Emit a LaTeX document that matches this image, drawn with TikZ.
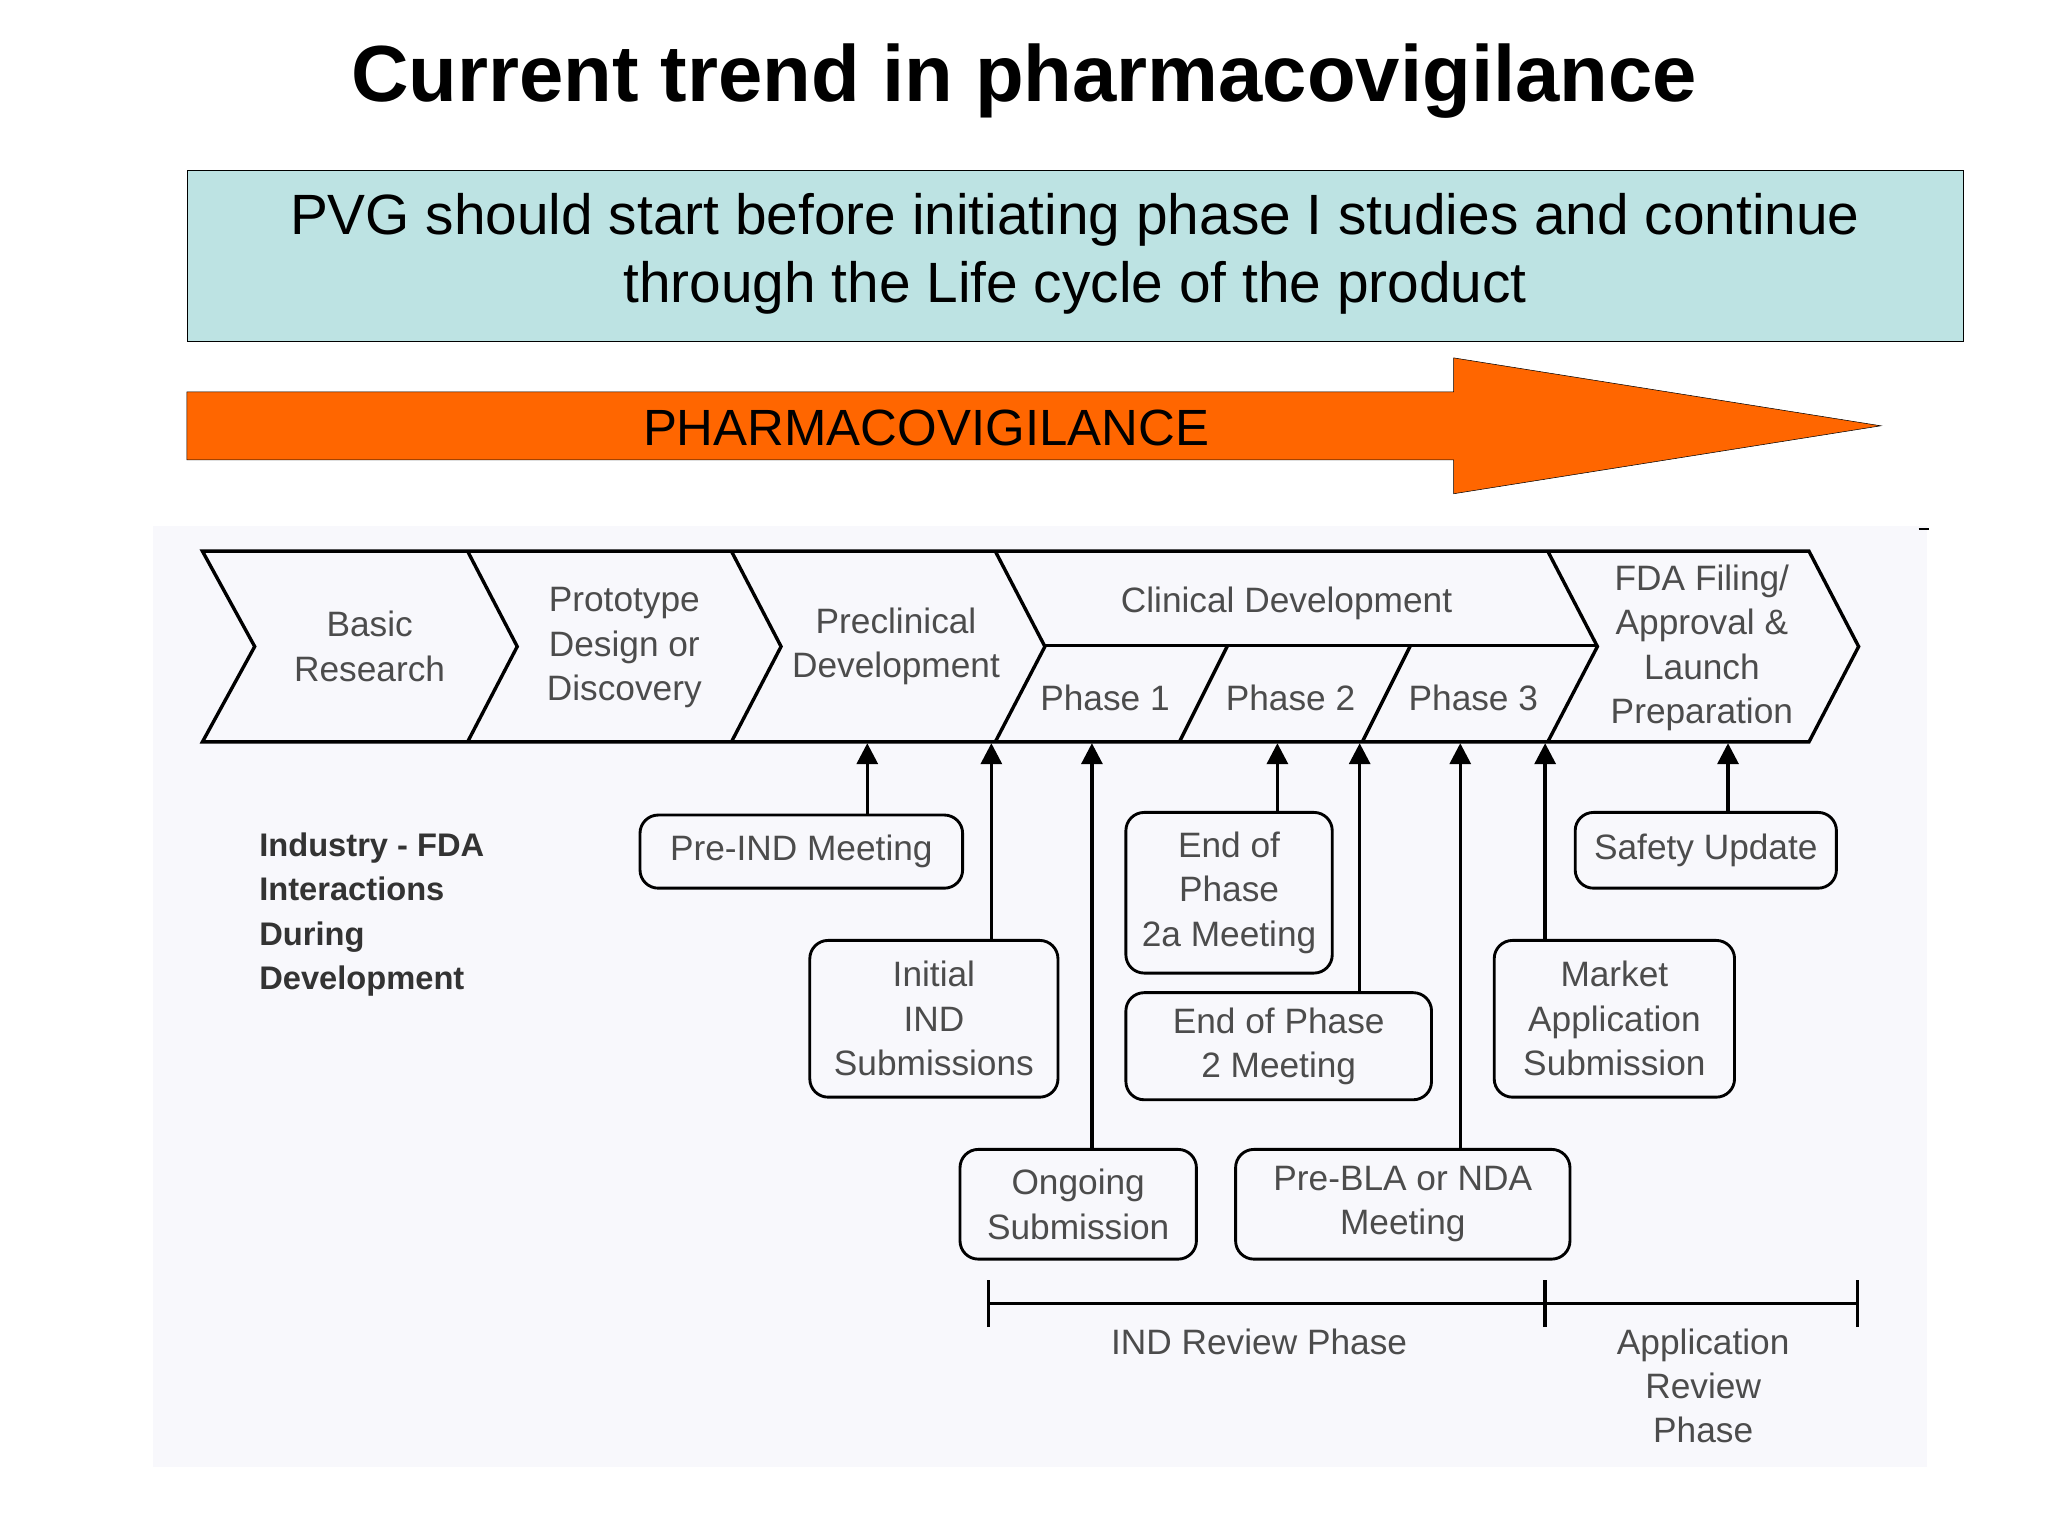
\documentclass[tikz,border=0pt]{standalone}
\usepackage{fontspec}
\setmainfont{Liberation Sans}
\usetikzlibrary{arrows.meta}
\definecolor{cyanbox}{RGB}{189,227,227}
\definecolor{orng}{RGB}{255,102,0}
\definecolor{bgpale}{RGB}{248,248,252}
\begin{document}
\begin{tikzpicture}[x=1pt,y=-1pt,
  gt/.style={text=black!70,font=\fontsize{27}{34}\selectfont,align=center},
  rbox/.style={draw,line width=2.2pt,rounded corners=14pt,gt,inner sep=0pt},
  up/.style={line width=2.6pt,-{Triangle[length=16pt,width=16pt]}},
  band/.style={line width=2.6pt}]
\useasboundingbox (0,0) rectangle (1568,1176);
\fill[white] (0,0) rectangle (1568,1176);
\node (title) at (784,62) {\fontsize{61}{63}\selectfont\bfseries Current trend in pharmacovigilance};
\node[draw,fill=cyanbox,minimum width=1360pt,minimum height=131pt,anchor=north west,inner sep=0pt] (pvg) at (143,130) {};
\node[align=center,font=\fontsize{43.5}{52}\selectfont] (pvgt) at (823,194) {PVG should start before initiating phase I studies and continue\\through the Life cycle of the product};
\draw[fill=orng] (143,300) -- (1113,300) -- (1113,274) -- (1440,326) -- (1113,378) -- (1113,352) -- (143,352) -- cycle;
\node[font=\fontsize{39}{40}\selectfont] (pv) at (709,328) {PHARMACOVIGILANCE};
\fill[bgpale] (117,403) rectangle (1475,1123);
\draw[line width=1.2pt] (1469,405) -- (1477,405);
% chevrons
\draw[band] (155,422) -- (1385,422) -- (1423,495) -- (1385,568) -- (155,568) -- (195,495) -- cycle;
\foreach \a in {358,560,762,1185}{\draw[band] (\a,422) -- (\a+38,495) -- (\a,568);}
\draw[band] (800,494) -- (1222,494);
\draw[band] (940,494) -- (903,568);
\draw[band] (1080,494) -- (1043,568);
\node[gt] (b1) at (283,495) {Basic\\Research};
\node[gt] (b2) at (478,496) {Prototype\\Design or\\Discovery};
\node[gt] (b3) at (686,495) {Preclinical\\Development};
\node[gt] (b4) at (985,462) {Clinical Development};
\node[gt] (p1) at (846,534) {Phase 1};
\node[gt] (p2) at (988,534) {Phase 2};
\node[gt] (p3) at (1128,534) {Phase 3};
\node[gt] (b5) at (1303,496) {FDA Filing/\\Approval \&\\Launch\\Preparation};
% boxes
\node[rbox,minimum width=247pt,minimum height=56pt] (preind) at (613.5,652) {Pre-IND Meeting};
\node[rbox,minimum width=190pt,minimum height=120pt] (ind) at (715,780) {Initial\\IND\\Submissions};
\node[rbox,minimum width=158pt,minimum height=123pt] (e2a) at (941,683.5) {End of\\Phase\\2a Meeting};
\node[rbox,minimum width=234pt,minimum height=82pt] (e2) at (979,801) {End of Phase\\2 Meeting};
\node[rbox,minimum width=184pt,minimum height=120pt] (mkt) at (1236,780) {Market\\Application\\Submission};
\node[rbox,minimum width=200pt,minimum height=58pt] (saf) at (1306,651) {Safety Update};
\node[rbox,minimum width=181pt,minimum height=84pt] (ong) at (825.5,922) {Ongoing\\Submission};
\node[rbox,minimum width=256pt,minimum height=84pt] (bla) at (1074,922) {Pre-BLA or NDA\\Meeting};
% arrows
\foreach \n/\x in {a1/664,a2/759,a3/836,a4/978,a5/1041,a6/1118,a7/1183,a8/1323}{\coordinate (\n) at (\x,569);}
\draw[up] (664,624) -- (a1);
\draw[up] (759,720) -- (a2);
\draw[up] (836,880) -- (a3);
\draw[up] (978,622) -- (a4);
\draw[up] (1041,760) -- (a5);
\draw[up] (1118,880) -- (a6);
\draw[up] (1183,720) -- (a7);
\draw[up] (1323,622) -- (a8);
\node[anchor=north west,align=left,font=\fontsize{25}{34}\selectfont\bfseries,text=black!80] (ind2) at (195,634) {Industry - FDA\\Interactions\\During\\Development};
% timeline
\coordinate (t1) at (757,998); \coordinate (t2) at (1183,998); \coordinate (t3) at (1422,998);
\draw[band] (t1) -- (t3);
\foreach \t in {t1,t2,t3}{\draw[band] ([yshift=-18pt]\t) -- ([yshift=18pt]\t);}
\node[gt] (irp) at (964,1027) {IND Review Phase};
\node[gt] (arp) at (1304,1061) {Application\\Review\\Phase};
\end{tikzpicture}
\end{document}
